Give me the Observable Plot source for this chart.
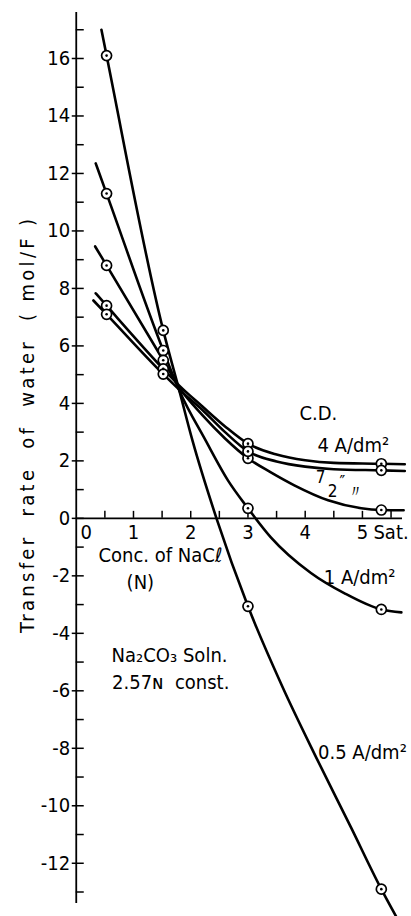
<!DOCTYPE html>
<html><head><meta charset="utf-8">
<script src="https://cdn.jsdelivr.net/npm/d3@7"></script>
<script src="https://cdn.jsdelivr.net/npm/@observablehq/plot@0.6"></script>
<style>
body{margin:0;background:#fff;}
#chart svg{display:block;}
</style></head><body><div id="chart"></div>
<script>
// Current densities (A/dm²)
const cdNames = ["0.5", "1", "2", "4", "7"];

// Measured points: NaCl conc (N) and transfer rate (mol/F)
const pointConc = [0.53, 1.52, 3.0, 5.33];
const point05 = [16.1, 6.54, -3.06, -12.9];
const point1 = [11.3, 5.84, 0.35, -3.17];
const point2 = [8.8, 5.5, 2.09, 0.29];
const point4 = [7.4, 5.2, 2.6, 1.9];
const point7 = [7.1, 5.02, 2.33, 1.67];

// Hand-drawn fitted curves
const curve05X = [0.44, 0.53, 1.52, 1.8, 2.03, 2.45, 3.0, 3.6, 4.2, 4.8, 5.33, 5.63];
const curve05Y = [17.0, 16.1, 6.54, 4.45, 2.71, 0, -3.06, -5.85, -8.35, -10.75, -12.9, -14.0];
const curve1X = [0.34, 0.53, 1.52, 1.8, 2.26, 2.65, 3.0, 3.4, 4.1, 4.68, 5.33, 5.68];
const curve1Y = [12.35, 11.3, 5.84, 4.45, 2.71, 1.32, 0.35, -0.66, -1.9, -2.6, -3.17, -3.27];
const curve2X = [0.33, 0.53, 1.52, 1.8, 2.2, 2.6, 3.0, 3.4, 3.81, 4.4, 4.98, 5.33, 5.72];
const curve2Y = [9.46, 8.8, 5.5, 4.55, 3.6, 2.78, 2.09, 1.6, 1.15, 0.63, 0.35, 0.29, 0.28];
const curve4X = [0.34, 0.53, 1.52, 1.8, 2.2, 2.6, 3.0, 3.5, 4.0, 4.5, 5.33, 5.74];
const curve4Y = [7.83, 7.4, 5.2, 4.62, 3.9, 3.2, 2.6, 2.22, 2.02, 1.93, 1.9, 1.88];
const curve7X = [0.3, 0.53, 1.52, 1.8, 2.2, 2.6, 3.0, 3.5, 4.0, 4.5, 5.33, 5.74];
const curve7Y = [7.58, 7.1, 5.02, 4.48, 3.78, 3.0, 2.33, 1.98, 1.8, 1.71, 1.67, 1.65];

// Axes
const xDomain = [0, 5.7];
const yDomain = [-13.4, 17.6];
const xTickValues = [0.5, 1, 1.5, 2, 2.5, 3, 3.5, 4, 4.5, 5, 5.5];
const xLabelValues = [1, 2, 3, 4, 5];
const yMajor = [-12, -10, -8, -6, -4, -2, 0, 2, 4, 6, 8, 10, 12, 14, 16];
const yMinor = [-13, -11, -9, -7, -5, -3, -1, 1, 3, 5, 7, 9, 11, 13, 15, 17];
const yTitle = "Transfer  rate  of  water  ( mol/F )";

// Text annotations (data coordinates)
const labelText = ["C.D.", "4 A/dm²", "1 A/dm²", "0.5 A/dm²", "Conc. of NaCℓ", "(N)", "Na₂CO₃ Soln.", "2.57ɴ  const."];
const labelX = [4.23, 4.84, 4.95, 5.0, 1.47, 1.12, 1.63, 1.65];
const labelY = [3.65, 2.54, -2.05, -8.14, -1.29, -2.23, -4.77, -5.7];
const smallText = ["7", "2", "″", "〃"];
const smallX = [4.27, 4.48, 4.65, 4.88];
const smallY = [1.42, 0.95, 1.25, 0.92];

const curvesX = [curve05X, curve1X, curve2X, curve4X, curve7X];
const curvesY = [curve05Y, curve1Y, curve2Y, curve4Y, curve7Y];
const pointsY = [point05, point1, point2, point4, point7];

const curveTable = cdNames.flatMap((cd, i) => curvesX[i].map((x, j) => ({cd, x, y: curvesY[i][j]})));
const pointTable = cdNames.flatMap((cd, i) => pointConc.map((x, j) => ({cd, x, y: pointsY[i][j]})));
const labelTable = labelText.map((text, i) => ({text, x: labelX[i], y: labelY[i]}));
const smallTable = smallText.map((text, i) => ({text, x: smallX[i], y: smallY[i]}));

const FONT = "'Liberation Sans Narrow', 'DejaVu Sans Condensed', 'Liberation Sans', sans-serif";

const plot = Plot.plot({
  width: 411,
  height: 916,
  marginLeft: 75.75,
  marginRight: 9,
  marginTop: 12,
  marginBottom: 13,
  x: {domain: xDomain, axis: null},
  y: {domain: yDomain, axis: null},
  style: {fontFamily: FONT, background: "white", color: "black"},
  marks: [
    Plot.ruleX([0], {stroke: "black", strokeWidth: 1.8}),
    Plot.ruleY([0], {stroke: "black", strokeWidth: 1.8}),
    Plot.ruleY(yMajor, {y: d => d, x1: 0, x2: 0, insetLeft: -4, insetRight: -8, stroke: "black", strokeWidth: 1.5}),
    Plot.ruleY(yMinor, {y: d => d, x1: 0, x2: 0, insetRight: -8, stroke: "black", strokeWidth: 1.5}),
    Plot.ruleX(xTickValues, {x: d => d, y1: 0, y2: 0, insetTop: -7, stroke: "black", strokeWidth: 1.5}),
    Plot.axisY({ticks: yMajor, tickSize: 0, tickPadding: 6, tickFormat: d => String(d), fontSize: 20, label: null}),
    Plot.text(xLabelValues, {x: d => d, y: 0, text: d => String(d), dy: 14, fontSize: 20}),
    Plot.text(["0"], {x: 0, y: 0, text: d => d, dx: 10, dy: 14, fontSize: 20}),
    Plot.text(["Sat."], {x: 5.5, y: 0, text: d => d, dy: 14, fontSize: 20}),
    Plot.text([yTitle], {frameAnchor: "left", rotate: -90, textAnchor: "start", dx: -49, dy: 175, text: d => d, fontSize: 20}),
    Plot.line(curveTable, {x: "x", y: "y", z: "cd", curve: "monotone-x", stroke: "black", strokeWidth: 2.6}),
    Plot.dot(pointTable, {x: "x", y: "y", r: 5, fill: "white", stroke: "black", strokeWidth: 1.7}),
    Plot.dot(pointTable, {x: "x", y: "y", r: 1.3, fill: "black"}),
    Plot.text(labelTable, {x: "x", y: "y", text: "text", fontSize: 20}),
    Plot.text(smallTable, {x: "x", y: "y", text: "text", fontSize: 17})
  ]
});
document.getElementById("chart").appendChild(plot);
// stretch the y-axis title to its original span
plot.querySelectorAll("text").forEach(t => {
  if (t.textContent === yTitle) {
    t.setAttribute("textLength", "414");
    t.setAttribute("lengthAdjust", "spacing");
  }
});
</script>
</body></html>
